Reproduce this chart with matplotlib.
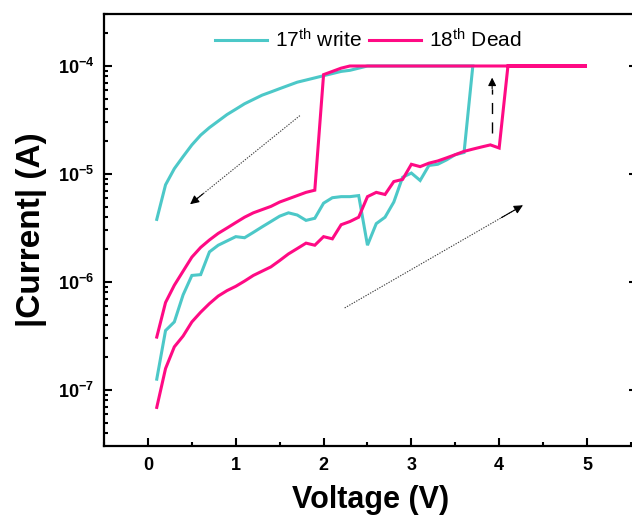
import numpy as np
import matplotlib
matplotlib.use("Agg")
import matplotlib.pyplot as plt
from matplotlib.ticker import LogLocator, NullFormatter, MultipleLocator

plt.rcParams['font.family'] = ['Liberation Sans', 'DejaVu Sans']
plt.rcParams['mathtext.fontset'] = 'custom'
plt.rcParams['mathtext.rm'] = 'Liberation Sans'
plt.rcParams['mathtext.it'] = 'Liberation Sans:italic'
plt.rcParams['mathtext.bf'] = 'Liberation Sans:bold'
plt.rcParams['axes.unicode_minus'] = False

# ---------------- data ----------------
# 17th write : forward sweep 0.1 -> 3.7 V, then return on compliance and back to 0.1 V
write_fwd_v = [0.1, 0.2, 0.3, 0.4, 0.5, 0.6, 0.7, 0.8, 0.9, 1.0, 1.1, 1.2, 1.3, 1.4,
               1.5, 1.6, 1.7, 1.8, 1.9, 2.0, 2.1, 2.2, 2.3, 2.4, 2.5, 2.6, 2.7, 2.8,
               2.9, 3.0, 3.1, 3.2, 3.3, 3.4, 3.5, 3.6, 3.7]
write_fwd_i = [1.26e-7, 3.55e-7, 4.27e-7, 7.6e-7, 1.15e-6, 1.17e-6, 1.9e-6, 2.19e-6,
               2.4e-6, 2.63e-6, 2.57e-6, 2.88e-6, 3.24e-6, 3.63e-6, 4.07e-6, 4.37e-6,
               4.17e-6, 3.72e-6, 3.89e-6, 5.37e-6, 6.03e-6, 6.17e-6, 6.17e-6, 6.31e-6,
               2.19e-6, 3.47e-6, 3.98e-6, 5.5e-6, 9.33e-6, 1.02e-5, 8.71e-6, 1.2e-5,
               1.23e-5, 1.35e-5, 1.51e-5, 1.58e-5, 1.0e-4]
write_ret_v = [3.7, 2.5, 2.4, 2.3, 2.2, 2.1, 2.0, 1.9, 1.8, 1.7, 1.6, 1.5, 1.4, 1.3,
               1.2, 1.1, 1.0, 0.9, 0.8, 0.7, 0.6, 0.5, 0.4, 0.3, 0.2, 0.1]
write_ret_i = [1.0e-4, 1.0e-4, 9.55e-5, 9.12e-5, 8.91e-5, 8.51e-5, 8.13e-5, 7.76e-5,
               7.41e-5, 7.08e-5, 6.61e-5, 6.17e-5, 5.75e-5, 5.37e-5, 4.9e-5, 4.47e-5,
               3.98e-5, 3.55e-5, 3.09e-5, 2.69e-5, 2.29e-5, 1.86e-5, 1.45e-5, 1.12e-5,
               7.94e-6, 3.8e-6]

# 18th Dead : forward sweep 0.1 -> 5 V, then return
dead_fwd_v = [0.1, 0.2, 0.3, 0.4, 0.5, 0.6, 0.7, 0.8, 0.9, 1.0, 1.1, 1.2, 1.3, 1.4,
              1.5, 1.6, 1.7, 1.8, 1.9, 2.0, 2.1, 2.2, 2.3, 2.4, 2.5, 2.6, 2.7, 2.8,
              2.9, 3.0, 3.1, 3.2, 3.3, 3.4, 3.5, 3.6, 3.7, 3.8, 3.9, 4.0, 4.1, 5.0]
dead_fwd_i = [6.9e-8, 1.58e-7, 2.51e-7, 3.16e-7, 4.27e-7, 5.25e-7, 6.31e-7, 7.41e-7,
              8.32e-7, 9.12e-7, 1.02e-6, 1.15e-6, 1.26e-6, 1.38e-6, 1.58e-6, 1.82e-6,
              2.04e-6, 2.29e-6, 2.19e-6, 2.63e-6, 2.51e-6, 3.39e-6, 3.63e-6, 3.98e-6,
              6.17e-6, 6.76e-6, 6.46e-6, 8.51e-6, 8.91e-6, 1.23e-5, 1.17e-5, 1.26e-5,
              1.32e-5, 1.41e-5, 1.51e-5, 1.62e-5, 1.7e-5, 1.78e-5, 1.86e-5, 1.74e-5,
              1.0e-4, 1.0e-4]
dead_ret_v = [5.0, 2.3, 2.2, 2.1, 2.0, 1.9, 1.8, 1.7, 1.6, 1.5, 1.4, 1.3, 1.2, 1.1,
              1.0, 0.9, 0.8, 0.7, 0.6, 0.5, 0.4, 0.3, 0.2, 0.1]
dead_ret_i = [1.0e-4, 1.0e-4, 9.55e-5, 8.91e-5, 8.32e-5, 7.08e-6, 6.76e-6, 6.31e-6,
              5.89e-6, 5.5e-6, 5.01e-6, 4.68e-6, 4.37e-6, 3.98e-6, 3.55e-6, 3.16e-6,
              2.82e-6, 2.45e-6, 2.09e-6, 1.7e-6, 1.26e-6, 9.33e-7, 6.46e-7, 3.09e-7]

labels = ["17$^{\\mathrm{th}}$ write", "18$^{\\mathrm{th}}$ Dead"]
colors = ["#4CC8C8", "#FF0A84"]

# arrows (tail, head) in data coords
arrows_dotted = [((1.73, 3.47e-5), (0.48, 5.25e-6)),
                 ((2.24, 5.75e-7), (4.27, 5.13e-6))]
arrow_dashed = ((3.92, 2.4e-5), (3.92, 7.8e-5))

# ---------------- figure ----------------
W, H = 632, 519
fig = plt.figure(figsize=(W / 100, H / 100), dpi=100)
ax = fig.add_axes([104 / W, (H - 446) / H, (637 - 104) / W, 432 / H])

v1 = write_fwd_v + write_ret_v
i1 = write_fwd_i + write_ret_i
v2 = dead_fwd_v + dead_ret_v
i2 = dead_fwd_i + dead_ret_i
ax.plot(v1, i1, color=colors[0], lw=2.2, label=labels[0], solid_joinstyle='miter')
ax.plot(v2, i2, color=colors[1], lw=2.2, label=labels[1], solid_joinstyle='miter')

ax.set_yscale('log')
ax.set_xlim(-0.501, 5.57)
ax.set_ylim(3.03e-8, 3.03e-4)

for (t, h) in arrows_dotted:
    ax.plot([t[0], h[0]], [t[1], h[1]], color='0.25', lw=0.8, ls=(0, (1.2, 1.2)))
    xt = h[0] - 0.12 * (h[0] - t[0])
    yt = h[1] * (t[1] / h[1]) ** 0.12
    ax.annotate('', xy=h, xytext=(xt, yt),
                arrowprops=dict(arrowstyle='-|>', color='k', lw=0.8,
                                mutation_scale=13, shrinkA=0, shrinkB=0))
t, h = arrow_dashed
ax.plot([t[0], h[0]], [t[1], h[1] * (t[1] / h[1]) ** 0.2], color='k', lw=1.0,
        ls=(0, (8, 6)))
ax.annotate('', xy=h, xytext=(h[0], h[1] * (t[1] / h[1]) ** 0.2),
            arrowprops=dict(arrowstyle='-|>', color='k', lw=0.8,
                            mutation_scale=12, shrinkA=0, shrinkB=0))

# ticks
ax.xaxis.set_major_locator(MultipleLocator(1))
ax.xaxis.set_minor_locator(MultipleLocator(0.5))
ax.yaxis.set_major_locator(LogLocator(base=10, numticks=20))
ax.yaxis.set_minor_locator(LogLocator(base=10, subs=np.arange(2, 10), numticks=20))
ax.yaxis.set_minor_formatter(NullFormatter())
ax.tick_params(which='both', direction='in', width=1.5, top=False, right=True)
ax.tick_params(which='major', length=6)
ax.tick_params(which='minor', length=3)
ax.tick_params(axis='x', which='major', pad=8, labelsize=13)
ax.tick_params(axis='y', which='major', pad=7, labelsize=13)
for lab in ax.get_xticklabels() + ax.get_yticklabels():
    lab.set_fontweight('bold')
for s in ax.spines.values():
    s.set_linewidth(1.6)

ax.set_xlabel('Voltage (V)', fontsize=22, fontweight='bold', labelpad=8)
ax.set_ylabel('|Current| (A)', fontsize=24, fontweight='bold', labelpad=8)

leg = ax.legend(loc='center', bbox_to_anchor=(0.496, 0.94), ncol=2, frameon=False,
                fontsize=15, handlelength=2.5, handletextpad=0.4, columnspacing=0.3,
                borderaxespad=0)

fig.savefig('out.png', dpi=100)
